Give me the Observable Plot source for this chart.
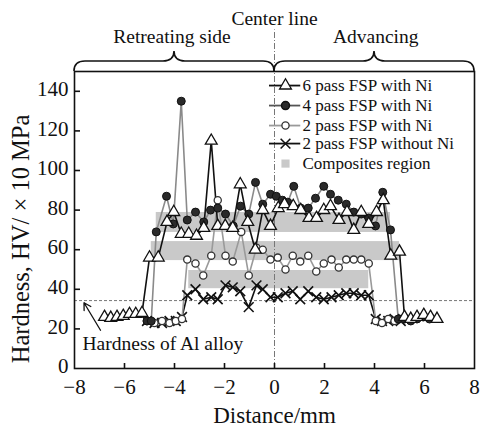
<!DOCTYPE html>
<html>
<head>
<meta charset="utf-8">
<script src="https://cdn.jsdelivr.net/npm/d3@7"></script>
<script src="https://cdn.jsdelivr.net/npm/@observablehq/plot@0.6"></script>
<style>
  html, body { margin: 0; padding: 0; background: #fff; }
  #chart { width: 481px; height: 428px; }
  #chart svg, #chart svg text { font-family: "Liberation Serif", "DejaVu Serif", serif !important; }
</style>
</head>
<body>
<div id="chart"></div>
<script>
// ---- data ----
const xTicks = [-8, -6, -4, -2, 0, 2, 4, 6, 8];
const yTicks = [0, 20, 40, 60, 80, 100, 120, 140];

const seriesNames = ["6 pass FSP with Ni", "4 pass FSP with Ni", "2 pass FSP with Ni", "2 pass FSP without Ni"];
const compositeLabel = "Composites region";

// 6 pass FSP with Ni (open triangles)
const pass6X = [-6.8, -6.55, -6.3, -6.05, -5.8, -5.55, -5.3, -5.0, -4.65, -4.3, -4.03, -3.73, -3.43, -3.12, -2.83, -2.53, -2.27, -1.97, -1.67, -1.37, -1.07, -0.77, -0.47, -0.16, 0.15, 0.4, 0.75, 1.05, 1.38, 1.68, 1.97, 2.24, 2.58, 2.9, 3.17, 3.47, 3.77, 4.08, 4.35, 4.65, 5.0, 5.2, 5.45, 5.7, 5.97, 6.24, 6.5];
const pass6Y = [26, 25.5, 26, 26.5, 27.5, 27.5, 28, 56, 56, 74, 79, 68, 68, 67, 71, 115, 72, 72, 71, 93, 74, 60, 80, 72, 81, 83, 82, 80, 76, 76, 80, 82, 75, 79, 70, 79, 73, 79, 85, 57, 59, 26, 25, 26, 27, 26, 25];

// 4 pass FSP with Ni (filled circles)
const pass4X = [-5.1, -4.93, -4.73, -4.32, -4.05, -3.73, -3.49, -3.16, -2.83, -2.56, -2.27, -1.96, -1.65, -1.36, -1.03, -0.76, -0.47, -0.16, 0.07, 0.31, 0.53, 0.77, 1.05, 1.35, 1.64, 1.97, 2.24, 2.55, 2.87, 3.17, 3.47, 3.77, 4.04, 4.33, 4.64, 4.95, 5.2, 5.45, 5.7, 5.95, 6.2];
const pass4Y = [24, 24, 69, 87, 73, 135, 75, 79, 74, 80, 81, 78, 72, 82, 78, 94, 83, 88, 87, 85, 84, 92, 81, 81, 86, 92, 88, 85, 83, 79, 78, 76, 72, 89, 70, 25, 25, 24, 25, 26, 25];

// 2 pass FSP with Ni (open circles)
const pass2NiX = [-5.1, -4.8, -4.5, -4.2, -3.95, -3.7, -3.49, -3.16, -2.85, -2.53, -2.27, -1.96, -1.67, -1.33, -1.03, -0.72, -0.47, -0.16, 0.13, 0.44, 0.73, 1.03, 1.35, 1.67, 1.97, 2.28, 2.57, 2.87, 3.17, 3.47, 3.77, 4.05, 4.3, 4.55, 4.8, 5.05];
const pass2NiY = [24, 23, 24, 23, 24, 25, 55, 53, 47, 57, 85, 57, 54, 69, 47, 61, 60, 55, 56, 50, 57, 54, 57, 49, 53, 55, 51, 55, 55, 55, 53, 24, 23, 25, 24, 25];

// 2 pass FSP without Ni (crosses)
const pass2X = [-5.1, -4.8, -4.5, -4.2, -3.95, -3.7, -3.49, -3.16, -2.85, -2.53, -2.27, -1.96, -1.67, -1.37, -1.03, -0.72, -0.47, -0.16, 0.13, 0.44, 0.73, 1.03, 1.35, 1.67, 1.97, 2.28, 2.57, 2.87, 3.17, 3.47, 3.77, 4.05, 4.3, 4.55, 4.8, 5.05];
const pass2Y = [24, 23, 23, 24, 24, 26, 37, 40, 35, 36, 35, 42, 41, 39, 31, 42, 40, 36, 36, 38, 39, 35, 39, 36, 35, 36, 37, 38, 38, 37, 37, 25, 24, 24, 25, 24];

// composites regions (grey bands)
const bandX1 = [-4.73, -4.93, -3.43];
const bandX2 = [4.64, 5.0, 3.77];
const bandY1 = [68.7, 54.5, 40.3];
const bandY2 = [78.8, 64.1, 49.5];

const alHardness = 34.3;
const centerLine = 0;
const braceEnds = [-8, 0, 8];
const sideLabels = ["Retreating side", "Advancing"];
const centerLabel = "Center line";
const alLabel = "Hardness of Al alloy";
const xLabel = "Distance/mm";
const yLabel = "Hardness, HV/ \u00d7 10 MPa";

// ---- build tables ----
const zip = (xs, ys) => xs.map((x, i) => ({x, y: ys[i]}));
const s6 = zip(pass6X, pass6Y);
const s4 = zip(pass4X, pass4Y);
const s2n = zip(pass2NiX, pass2NiY);
const s2 = zip(pass2X, pass2Y);
const bands = bandX1.map((x1, i) => ({x1, x2: bandX2[i], y1: bandY1[i], y2: bandY2[i]}));

// legend layout (data units within the frame)
const legY = [142.9, 132.8, 122.7, 113.6, 103.5];
const legLine = {x1: -0.2, x2: 1.05, xm: 0.44, xt: 1.12};
const legend = seriesNames.map((name, i) => ({name, y: legY[i]}));

const c4 = "#8a8a8a", c2n = "#9a9a9a";

function braceMark(a, b) {
  return (index, scales, values, dims) => {
    const X1 = scales.x(a), X2 = scales.x(b), yb = dims.marginTop, m = (X1 + X2) / 2;
    const d = `M${X1},${yb} Q${X1},${yb-10} ${X1+11},${yb-10} L${m-11},${yb-10} Q${m},${yb-10} ${m},${yb-20} Q${m},${yb-10} ${m+11},${yb-10} L${X2-11},${yb-10} Q${X2},${yb-10} ${X2},${yb}`;
    return d3.create("svg:path").attr("d", d).attr("fill", "none").attr("stroke", "#111").attr("stroke-width", 1.6).node();
  };
}

const chart = Plot.plot({
  width: 481,
  height: 428,
  marginLeft: 74,
  marginRight: 7,
  marginTop: 71,
  marginBottom: 60,
  style: {fontFamily: "Liberation Serif", fontSize: "22px", background: "#fff", color: "#111"},
  x: {domain: [-8, 8]},
  y: {domain: [0, 150]},
  marks: [
    Plot.rect(bands, {x1: "x1", x2: "x2", y1: "y1", y2: "y2", fill: "#c9c9c9"}),
    Plot.ruleY([alHardness], {stroke: "#777", strokeWidth: 1, strokeDasharray: "3,2"}),
    Plot.ruleX([centerLine], {y1: 0, y2: 171, stroke: "#777", strokeWidth: 1, strokeDasharray: "6,2,1,2", clip: false}),
    // series
    Plot.line(s2, {x: "x", y: "y", stroke: "#111", strokeWidth: 1.6}),
    Plot.line(s2n, {x: "x", y: "y", stroke: c2n, strokeWidth: 1.6}),
    Plot.line(s4, {x: "x", y: "y", stroke: c4, strokeWidth: 1.6}),
    Plot.line(s6, {x: "x", y: "y", stroke: "#111", strokeWidth: 1.6}),
    Plot.dot(s2, {x: "x", y: "y", symbol: "times", r: 4.5, stroke: "#111", strokeWidth: 1.6}),
    Plot.dot(s2n, {x: "x", y: "y", symbol: "circle", r: 3.6, fill: "#fff", stroke: "#333", strokeWidth: 1.3}),
    Plot.dot(s4, {x: "x", y: "y", symbol: "circle", r: 4, fill: "#2a2a2a", stroke: "#111", strokeWidth: 1}),
    Plot.dot(s6, {x: "x", y: "y", symbol: "triangle", r: 4.4, fill: "#fff", stroke: "#111", strokeWidth: 1.3}),
    // frame & ticks
    Plot.frame({stroke: "#111", strokeWidth: 1.6}),
    Plot.ruleX(xTicks.slice(1, -1), {x: d => d, insetTop: 292, stroke: "#111", strokeWidth: 1.6}),
    Plot.ruleY(yTicks.slice(1), {y: d => d, insetRight: 394, stroke: "#111", strokeWidth: 1.6}),
    Plot.axisX(xTicks, {tickSize: 0, tickPadding: 11, label: null, fontSize: 21}),
    Plot.axisY(yTicks, {tickSize: 0, tickPadding: 6, label: null, fontSize: 21, dy: -2}),
    Plot.text([xLabel], {frameAnchor: "bottom", dy: 47, fontSize: 23, lineAnchor: "middle", textAnchor: "middle"}),
    Plot.text([yLabel], {frameAnchor: "left", dx: -53, dy: 19, rotate: -90, fontSize: 24.5, lineAnchor: "middle", textAnchor: "middle"}),
    // top annotations
    braceMark(braceEnds[0], braceEnds[1]),
    braceMark(braceEnds[1], braceEnds[2]),
    Plot.text(sideLabels, {x: [-4.1, 4.05], y: [167.3, 167.3], fontSize: 19.5, clip: false}),
    Plot.text([centerLabel], {x: [0], y: [176.5], fontSize: 19.5, clip: false}),
    // Al alloy annotation
    Plot.arrow([{x1: -6.96, y1: 19.3, x2: -7.62, y2: 33.2}], {x1: "x1", y1: "y1", x2: "x2", y2: "y2", stroke: "#111", strokeWidth: 1.3, headLength: 9}),
    Plot.text([alLabel], {x: [-7.68], y: [12.4], textAnchor: "start", fontSize: 19.5}),
    // legend
    Plot.ruleY(legend, {y: "y", x1: legLine.x1, x2: legLine.x2, stroke: (d, i) => [ "#111", "#555", c2n, "#111"][i], strokeWidth: 1.8}),
    Plot.dot([legend[3]], {x: legLine.xm, y: "y", symbol: "times", r: 4.5, stroke: "#111", strokeWidth: 1.6}),
    Plot.dot([legend[2]], {x: legLine.xm, y: "y", symbol: "circle", r: 3.6, fill: "#fff", stroke: "#333", strokeWidth: 1.3}),
    Plot.dot([legend[1]], {x: legLine.xm, y: "y", symbol: "circle", r: 4, fill: "#2a2a2a", stroke: "#111"}),
    Plot.dot([legend[0]], {x: legLine.xm, y: "y", symbol: "triangle", r: 4.4, fill: "#fff", stroke: "#111", strokeWidth: 1.3}),
    Plot.dot([{y: legY[4]}], {x: legLine.xm, y: "y", symbol: "square", r: 4.6, fill: "#c9c9c9"}),
    Plot.text([...seriesNames, compositeLabel], {x: legLine.xt, y: legY, text: d => d, textAnchor: "start", fontSize: 17})
  ]
});
document.getElementById("chart").appendChild(chart);
</script>
</body>
</html>
